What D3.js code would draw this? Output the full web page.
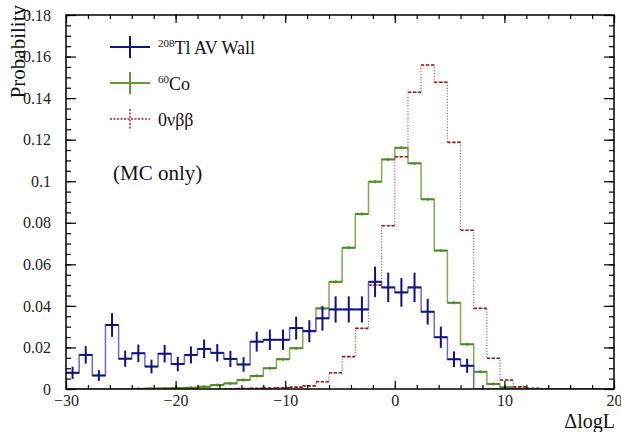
<!DOCTYPE html>
<html>
<head>
<meta charset="utf-8">
<script src="https://cdn.jsdelivr.net/npm/d3@7"></script>
<style>
  body { margin: 0; background: #fff; }
  text { font-family: "Liberation Serif", "DejaVu Serif", serif; }
</style>
</head>
<body>
<script>
// bin centres (width 1.2) in delta log L
var binCenters = [-29.4, -28.2, -27.0, -25.8, -24.6, -23.4, -22.2, -21.0, -19.8, -18.6,
  -17.4, -16.2, -15.0, -13.8, -12.6, -11.4, -10.2, -9.0, -7.8, -6.6,
  -5.4, -4.2, -3.0, -1.8, -0.6, 0.6, 1.8, 3.0, 4.2, 5.4,
  6.6, 7.8, 9.0, 10.2, 11.4, 12.6, 13.8, 15.0, 16.2, 17.4,
  18.6, 19.8];
var binWidth = 1.2;

// 208Tl AV wall
var tlValues = [0.0078, 0.0164, 0.0065, 0.0308, 0.0146, 0.0172, 0.0108, 0.0170, 0.0120, 0.0164,
  0.0193, 0.0174, 0.0145, 0.0118, 0.0228, 0.0237, 0.0237, 0.0293, 0.0278, 0.0340,
  0.0383, 0.0383, 0.0383, 0.0516, 0.0489, 0.0465, 0.0489, 0.0372, 0.0249, 0.0143,
  0.0112, 0, 0, 0, 0, 0, 0, 0, 0, 0,
  0, 0];
var tlErrors = [0.0029, 0.0042, 0.0026, 0.0057, 0.0039, 0.0042, 0.0033, 0.0042, 0.0035, 0.0041,
  0.0045, 0.0042, 0.0039, 0.0035, 0.0048, 0.0049, 0.0049, 0.0055, 0.0053, 0.0059,
  0.0063, 0.0063, 0.0063, 0.0073, 0.0071, 0.0069, 0.0071, 0.0062, 0.0051, 0.0038,
  0.0034, 0, 0, 0, 0, 0, 0, 0, 0, 0,
  0, 0];

// 60Co
var coValues = [0, 0, 0, 0, 0, 0.0001, 0.0002, 0.0003, 0.0004, 0.0006,
  0.0011, 0.0019, 0.0027, 0.0043, 0.0063, 0.0100, 0.0143, 0.0196, 0.0280, 0.0388,
  0.0516, 0.0680, 0.0842, 0.0998, 0.1105, 0.1161, 0.1086, 0.0913, 0.0666, 0.0415,
  0.0215, 0.0083, 0.0024, 0.0008, 0.0002, 0, 0, 0, 0, 0,
  0, 0];

// 0vbb
var bbValues = [0, 0, 0, 0, 0, 0, 0, 0, 0, 0,
  0, 0, 0.0001, 0.0002, 0.0003, 0.0004, 0.0006, 0.0009, 0.0015, 0.0035,
  0.0078, 0.0156, 0.0292, 0.0500, 0.0786, 0.1118, 0.1428, 0.1559, 0.1476, 0.1187,
  0.0764, 0.0388, 0.0148, 0.0043, 0.0011, 0.0003, 0, 0, 0, 0,
  0, 0];

var xMajor = [-30, -20, -10, 0, 10, 20];
var yMajor = [0, 0.02, 0.04, 0.06, 0.08, 0.1, 0.12, 0.14, 0.16, 0.18];

var width = 621, height = 432;
var margin = { top: 15, right: 7, bottom: 43, left: 66 };

var svg = d3.select("body").append("svg")
    .attr("width", width)
    .attr("height", height);

var x = d3.scaleLinear().domain([-30, 20]).range([margin.left, width - margin.right]);
var y = d3.scaleLinear().domain([0, 0.18]).range([height - margin.bottom, margin.top]);

svg.append("clipPath").attr("id", "plot")
  .append("rect")
    .attr("x", margin.left).attr("y", margin.top)
    .attr("width", width - margin.left - margin.right)
    .attr("height", height - margin.top - margin.bottom);

var plot = svg.append("g").attr("clip-path", "url(#plot)");

// step line through the bin edges
var step = d3.line()
    .x(function(d) { return x(d[0]); })
    .y(function(d) { return y(d[1]); })
    .curve(d3.curveStepAfter);

function stepPoints(vals) {
  var pts = binCenters.map(function(c, i) { return [c - binWidth / 2, vals[i]]; });
  pts.push([binCenters[binCenters.length - 1] + binWidth / 2, vals[vals.length - 1]]);
  return pts;
}

function bins(vals) {
  return binCenters.map(function(c, i) { return { c: c, v: vals[i] }; })
    .filter(function(d) { return d.v > 0; });
}

// 60Co
plot.append("path")
    .attr("d", step(stepPoints(coValues)))
    .attr("fill", "none")
    .attr("stroke", "#7fae52")
    .attr("stroke-width", 1.5);
plot.selectAll(".coerr").data(bins(coValues)).enter().append("line")
    .attr("x1", function(d) { return x(d.c - binWidth / 2); })
    .attr("x2", function(d) { return x(d.c + binWidth / 2); })
    .attr("y1", function(d) { return y(d.v); })
    .attr("y2", function(d) { return y(d.v); })
    .attr("stroke", "#4f8a22")
    .attr("stroke-width", 2);
plot.selectAll(".coerrv").data(bins(coValues)).enter().append("line")
    .attr("x1", function(d) { return x(d.c); })
    .attr("x2", function(d) { return x(d.c); })
    .attr("y1", function(d) { return y(d.v) - 1.5; })
    .attr("y2", function(d) { return y(d.v) + 1.5; })
    .attr("stroke", "#4f8a22")
    .attr("stroke-width", 1.5);

// 0vbb
plot.append("path")
    .attr("d", step(stepPoints(bbValues)))
    .attr("fill", "none")
    .attr("stroke", "#d65a5a")
    .attr("stroke-width", 1.2)
    .attr("stroke-dasharray", "1.2,1.6");
plot.selectAll(".bberr").data(bins(bbValues)).enter().append("line")
    .attr("x1", function(d) { return x(d.c - binWidth / 2); })
    .attr("x2", function(d) { return x(d.c + binWidth / 2); })
    .attr("y1", function(d) { return y(d.v); })
    .attr("y2", function(d) { return y(d.v); })
    .attr("stroke", "#8e1a1a")
    .attr("stroke-width", 1.6)
    .attr("stroke-dasharray", "3,2");

// 208Tl
plot.append("path")
    .attr("d", step(stepPoints(tlValues)))
    .attr("fill", "none")
    .attr("stroke", "#6b6bc4")
    .attr("stroke-width", 1.5);
var tl = plot.selectAll(".tl").data(binCenters.map(function(c, i) {
    return { c: c, v: tlValues[i], e: tlErrors[i] };
  }).filter(function(d) { return d.v > 0; }))
  .enter().append("g");
tl.append("line")
    .attr("x1", function(d) { return x(d.c - binWidth / 2); })
    .attr("x2", function(d) { return x(d.c + binWidth / 2); })
    .attr("y1", function(d) { return y(d.v); })
    .attr("y2", function(d) { return y(d.v); })
    .attr("stroke", "#12127e")
    .attr("stroke-width", 2);
tl.append("line")
    .attr("x1", function(d) { return x(d.c); })
    .attr("x2", function(d) { return x(d.c); })
    .attr("y1", function(d) { return y(d.v - d.e); })
    .attr("y2", function(d) { return y(d.v + d.e); })
    .attr("stroke", "#12127e")
    .attr("stroke-width", 2);

// axes, ticks inside on all four sides
var x0 = margin.left, x1 = width - margin.right;
var y0 = height - margin.bottom, y1 = margin.top;

function minorTicks(lo, hi, stepv) {
  var out = [];
  for (var v = lo; v <= hi + 1e-9; v += stepv) out.push(+v.toFixed(4));
  return out;
}
var xMinor = minorTicks(-30, 20, 2);
var yMinor = minorTicks(0, 0.18, 0.005);

var fmtX = function(d) { return d < 0 ? "\u2212" + Math.abs(d) : String(d); };
var fmtY = function(d) { return d === 0 ? "0" : String(+d.toFixed(2)); };

svg.append("g").attr("transform", "translate(0," + y0 + ")")
    .call(d3.axisBottom(x).tickValues(xMinor).tickSize(-4).tickFormat(""));
svg.append("g").attr("transform", "translate(0," + y0 + ")")
    .call(d3.axisBottom(x).tickValues(xMajor).tickSize(-8).tickPadding(6).tickFormat(fmtX));
svg.append("g").attr("transform", "translate(0," + y1 + ")")
    .call(d3.axisTop(x).tickValues(xMinor).tickSize(-4).tickFormat(""));
svg.append("g").attr("transform", "translate(0," + y1 + ")")
    .call(d3.axisTop(x).tickValues(xMajor).tickSize(-8).tickFormat(""));

svg.append("g").attr("transform", "translate(" + x0 + ",0)")
    .call(d3.axisLeft(y).tickValues(yMinor).tickSize(-5).tickFormat(""));
svg.append("g").attr("transform", "translate(" + x0 + ",0)")
    .call(d3.axisLeft(y).tickValues(yMajor).tickSize(-10).tickPadding(15).tickFormat(fmtY));
svg.append("g").attr("transform", "translate(" + x1 + ",0)")
    .call(d3.axisRight(y).tickValues(yMinor).tickSize(-5).tickFormat(""));
svg.append("g").attr("transform", "translate(" + x1 + ",0)")
    .call(d3.axisRight(y).tickValues(yMajor).tickSize(-10).tickFormat(""));

svg.selectAll(".domain").remove();
svg.selectAll(".tick line").attr("stroke", "#000").attr("stroke-width", 1.2);
svg.selectAll(".tick text")
    .attr("font-family", "Liberation Serif")
    .attr("font-size", 16)
    .attr("fill", "#222");

svg.append("rect")
    .attr("x", x0).attr("y", y1)
    .attr("width", x1 - x0).attr("height", y0 - y1)
    .attr("fill", "none")
    .attr("stroke", "#000")
    .attr("stroke-width", 1.5);

// axis titles
svg.append("text")
    .attr("x", 615).attr("y", 427.5)
    .attr("text-anchor", "end")
    .attr("font-size", 20)
    .attr("fill", "#111")
    .text("\u0394logL");

svg.append("text")
    .attr("transform", "translate(25,5) rotate(-90)")
    .attr("text-anchor", "end")
    .attr("font-size", 21)
    .attr("fill", "#111")
    .text("Probability");

// legend
var legend = svg.append("g");
var lx0 = 110, lx1 = 150, lxc = 130;

legend.append("line").attr("x1", lx0).attr("x2", lx1).attr("y1", 47).attr("y2", 47)
    .attr("stroke", "#12127e").attr("stroke-width", 2);
legend.append("line").attr("x1", lxc).attr("x2", lxc).attr("y1", 36).attr("y2", 58)
    .attr("stroke", "#12127e").attr("stroke-width", 2);

legend.append("line").attr("x1", lx0).attr("x2", lx1).attr("y1", 83).attr("y2", 83)
    .attr("stroke", "#5e9a2e").attr("stroke-width", 2);
legend.append("line").attr("x1", lxc).attr("x2", lxc).attr("y1", 72).attr("y2", 94)
    .attr("stroke", "#5e9a2e").attr("stroke-width", 2);

legend.append("line").attr("x1", lx0).attr("x2", lx1).attr("y1", 119).attr("y2", 119)
    .attr("stroke", "#a32a2a").attr("stroke-width", 1.5).attr("stroke-dasharray", "2,1.5");
legend.append("line").attr("x1", lxc).attr("x2", lxc).attr("y1", 109).attr("y2", 130)
    .attr("stroke", "#a32a2a").attr("stroke-width", 1.5).attr("stroke-dasharray", "2,1.5");

var t1 = legend.append("text").attr("x", 158).attr("y", 54).attr("font-size", 18).attr("fill", "#111");
t1.append("tspan").attr("font-size", 11).attr("dy", -7).text("208");
t1.append("tspan").attr("dy", 7).text("Tl AV Wall");

var t2 = legend.append("text").attr("x", 158).attr("y", 90).attr("font-size", 18).attr("fill", "#111");
t2.append("tspan").attr("font-size", 11).attr("dy", -7).text("60");
t2.append("tspan").attr("dy", 7).text("Co");

legend.append("text").attr("x", 158).attr("y", 126).attr("font-size", 18).attr("fill", "#111")
    .text("0\u03bd\u03b2\u03b2");

svg.append("text")
    .attr("x", 113).attr("y", 180)
    .attr("font-size", 21)
    .attr("fill", "#111")
    .text("(MC only)");
</script>
</body>
</html>
